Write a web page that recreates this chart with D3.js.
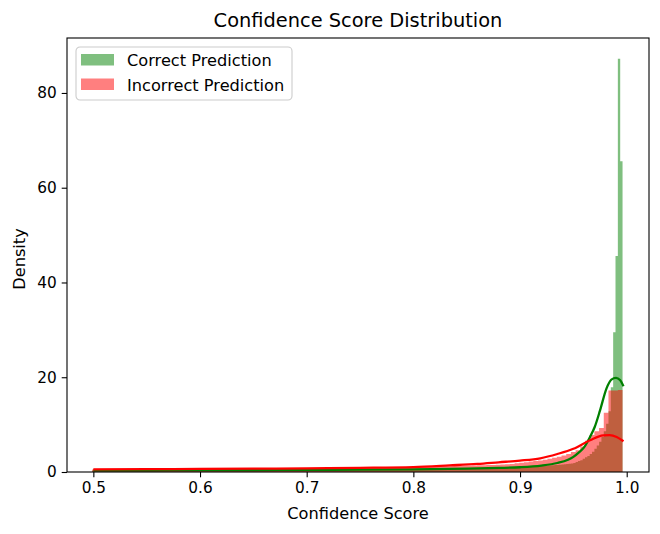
<!DOCTYPE html>
<html>
<head>
<meta charset="utf-8">
<script src="https://cdn.jsdelivr.net/npm/d3@7"></script>
<style>
    body { margin: 0; background: #fff; }
    svg { display: block; font-family: 'DejaVu Sans', sans-serif; }
</style>
</head>
<body>
<div id="chart"></div>
<script>
const seriesNames = ['Correct Prediction', 'Incorrect Prediction']
const xTicks = [0.5, 0.6, 0.7, 0.8, 0.9, 1.0]
const yTicks = [0, 20, 40, 60, 80]

// histogram densities, read bin by bin (equal width bins)
const correctBinStart = 0.4989
const correctBinWidth = 0.0022
const correctDensity = [
    0.34, 0.35, 0.34, 0.36, 0.35, 0.35, 0.36, 0.35, 0.37, 0.36,
    0.36, 0.37, 0.36, 0.37, 0.37, 0.36, 0.38, 0.37, 0.37, 0.38,
    0.38, 0.37, 0.38, 0.39, 0.38, 0.38, 0.39, 0.38, 0.39, 0.39,
    0.38, 0.39, 0.40, 0.39, 0.39, 0.40, 0.39, 0.40, 0.40, 0.41,
    0.40, 0.40, 0.41, 0.40, 0.41, 0.41, 0.40, 0.42, 0.41, 0.41,
    0.42, 0.41, 0.42, 0.42, 0.41, 0.43, 0.42, 0.42, 0.43, 0.43,
    0.42, 0.43, 0.44, 0.43, 0.43, 0.44, 0.43, 0.44, 0.44, 0.45,
    0.44, 0.44, 0.45, 0.45, 0.44, 0.46, 0.45, 0.45, 0.46, 0.46,
    0.45, 0.46, 0.47, 0.46, 0.47, 0.47, 0.46, 0.48, 0.47, 0.48,
    0.48, 0.47, 0.49, 0.48, 0.49, 0.49, 0.48, 0.50, 0.49, 0.50,
    0.50, 0.49, 0.51, 0.50, 0.51, 0.51, 0.50, 0.52, 0.52, 0.51,
    0.53, 0.52, 0.53, 0.53, 0.52, 0.54, 0.53, 0.54, 0.55, 0.54,
    0.55, 0.55, 0.54, 0.56, 0.56, 0.55, 0.57, 0.57, 0.56, 0.58,
    0.58, 0.57, 0.59, 0.59, 0.60, 0.59, 0.61, 0.61, 0.62, 0.61,
    0.63, 0.63, 0.64, 0.64, 0.65, 0.66, 0.65, 0.67, 0.67, 0.68,
    0.69, 0.69, 0.70, 0.71, 0.71, 0.72, 0.73, 0.73, 0.74, 0.75,
    0.76, 0.76, 0.78, 0.78, 0.79, 0.81, 0.81, 0.83, 0.84, 0.85,
    0.86, 0.88, 0.89, 0.90, 0.92, 0.93, 0.95, 0.96, 0.98, 1.00,
    1.01, 1.03, 1.05, 1.07, 1.09, 1.11, 1.13, 1.16, 1.18, 1.21,
    1.23, 1.26, 1.29, 1.32, 1.35, 1.38, 1.42, 1.46, 1.50, 1.55,
    1.60, 1.65, 1.70, 1.76, 1.82, 1.9, 2.1, 2.3, 2.5, 2.8,
    3.1, 3.4, 3.8, 4.3, 4.9, 5.6, 6.4, 7.4, 8.6, 10.2,
    12.8, 17.9, 29.5, 45.6, 87.2, 65.6
]

const incorrectBinStart = 0.4989
const incorrectBinWidth = 0.0044
const incorrectDensity = [
    0.52, 0.53, 0.52, 0.54, 0.55, 0.54, 0.56, 0.55, 0.57, 0.56,
    0.57, 0.58, 0.57, 0.59, 0.58, 0.60, 0.59, 0.61, 0.60, 0.62,
    0.61, 0.62, 0.63, 0.62, 0.64, 0.65, 0.64, 0.66, 0.66, 0.67,
    0.68, 0.67, 0.69, 0.70, 0.69, 0.71, 0.72, 0.72, 0.74, 0.73,
    0.75, 0.76, 0.76, 0.78, 0.78, 0.79, 0.80, 0.81, 0.81, 0.83,
    0.84, 0.84, 0.86, 0.87, 0.88, 0.89, 0.90, 0.92, 0.93, 0.94,
    0.96, 0.97, 0.98, 1.00, 1.01, 1.03, 1.04, 1.06, 1.08, 1.09,
    1.11, 1.13, 1.15, 1.17, 1.19, 1.21, 1.23, 1.26, 1.28, 1.31,
    1.34, 1.37, 1.40, 1.43, 1.47, 1.50, 1.54, 1.58, 1.63, 1.68,
    1.85, 1.95, 2.05, 2.2, 2.3, 2.45, 2.6, 2.8, 3.0, 3.2,
    3.5, 3.8, 4.2, 4.6, 5.4, 6.6, 7.8, 8.6, 9.3, 12.5,
    17.2, 17.2, 17.3
]

// kde curves
const correctKdeX = [0.5, 0.55, 0.6, 0.65, 0.7, 0.75, 0.8, 0.85, 0.88, 0.9, 0.92, 0.935, 0.945, 0.95, 0.955, 0.96, 0.9656, 0.97, 0.975, 0.981, 0.9856, 0.99, 0.9937, 0.997]
const correctKdeY = [0.36, 0.37, 0.40, 0.42, 0.45, 0.49, 0.55, 0.70, 0.85, 1.0, 1.35, 1.9, 2.6, 3.2, 4.1, 5.2, 7.4, 9.5, 13, 17.6, 19.5, 19.85, 19.4, 18.1]
const incorrectKdeX = [0.5, 0.55, 0.6, 0.65, 0.7, 0.75, 0.8, 0.834, 0.86, 0.88, 0.9, 0.919, 0.935, 0.95, 0.9656, 0.978, 0.984, 0.9906, 0.997]
const incorrectKdeY = [0.55, 0.6, 0.65, 0.7, 0.78, 0.88, 1.05, 1.4, 1.7, 2.05, 2.4, 2.9, 3.8, 4.9, 6.7, 7.75, 7.8, 7.4, 6.5]

const settings = {
    width: 660,
    height: 534,
    margin: { left: 67, top: 38, right: 11, bottom: 62 },
    xmin: 0.4753,
    xmax: 1.0209,
    ymin: 0,
    ymax: 91.6,
    tickFont: 15.3,
    labelFont: 16.2,
    titleFont: 19.4,
    colors: ['#008000', '#ff0000']
}

const plotW = settings.width - settings.margin.left - settings.margin.right
const plotH = settings.height - settings.margin.top - settings.margin.bottom

const svg = d3.select('#chart')
    .append('svg')
    .attr('width', settings.width)
    .attr('height', settings.height)

const g = svg.append('g')
    .attr('transform', `translate(${settings.margin.left}, ${settings.margin.top})`)

const xScale = d3.scaleLinear()
    .domain([settings.xmin, settings.xmax])
    .range([0, plotW])

const yScale = d3.scaleLinear()
    .domain([settings.ymin, settings.ymax])
    .range([plotH, 0])

const toBins = (start, width, dens) => {
    const pts = dens.map((d, i) => [start + i * width, d])
    pts.push([start + dens.length * width, dens[dens.length - 1]])
    return pts
}

const area = d3.area()
    .x(d => xScale(d[0]))
    .y0(yScale(0))
    .y1(d => yScale(d[1]))
    .curve(d3.curveStepAfter)

const hists = [
    toBins(correctBinStart, correctBinWidth, correctDensity),
    toBins(incorrectBinStart, incorrectBinWidth, incorrectDensity)
]

hists.forEach((h, i) => {
    g.append('path')
        .attr('d', area(h))
        .attr('fill', settings.colors[i])
        .attr('fill-opacity', 0.5)
})

const line = d3.line()
    .x(d => xScale(d[0]))
    .y(d => yScale(d[1]))
    .curve(d3.curveMonotoneX)

const kdes = [
    d3.zip(correctKdeX, correctKdeY),
    d3.zip(incorrectKdeX, incorrectKdeY)
]

kdes.forEach((k, i) => {
    g.append('path')
        .attr('d', line(k))
        .attr('fill', 'none')
        .attr('stroke', settings.colors[i])
        .attr('stroke-width', 2.3)
})

// axes
const xAxis = d3.axisBottom(xScale)
    .tickValues(xTicks)
    .tickFormat(d3.format('.1f'))
    .tickSize(5.3)
    .tickPadding(5)

const yAxis = d3.axisLeft(yScale)
    .tickValues(yTicks)
    .tickSize(5.3)
    .tickPadding(5)

g.append('g')
    .attr('transform', `translate(0, ${plotH})`)
    .call(xAxis)
    .call(a => a.select('.domain').remove())

g.append('g')
    .call(yAxis)
    .call(a => a.select('.domain').remove())

g.selectAll('.tick line').attr('stroke', '#000').attr('stroke-width', 1.1)
g.selectAll('.tick text')
    .attr('fill', '#000')
    .style('font-family', "'DejaVu Sans', sans-serif")
    .style('font-size', settings.tickFont + 'px')

g.append('rect')
    .attr('width', plotW)
    .attr('height', plotH)
    .attr('fill', 'none')
    .attr('stroke', '#000')
    .attr('stroke-width', 1.1)

// titles
svg.append('text')
    .attr('x', settings.margin.left + plotW / 2)
    .attr('y', 27)
    .attr('text-anchor', 'middle')
    .style('font-size', settings.titleFont + 'px')
    .text('Confidence Score Distribution')

svg.append('text')
    .attr('x', settings.margin.left + plotW / 2)
    .attr('y', 519)
    .attr('text-anchor', 'middle')
    .style('font-size', settings.labelFont + 'px')
    .text('Confidence Score')

svg.append('text')
    .attr('transform', `translate(25, ${settings.margin.top + plotH / 2 + 4}) rotate(-90)`)
    .attr('text-anchor', 'middle')
    .style('font-size', settings.labelFont + 'px')
    .text('Density')

// legend
const legend = svg.append('g')
    .attr('transform', 'translate(76, 47)')

legend.append('rect')
    .attr('width', 216)
    .attr('height', 53)
    .attr('rx', 4)
    .attr('fill', '#fff')
    .attr('fill-opacity', 0.8)
    .attr('stroke', '#cccccc')
    .attr('stroke-width', 1.1)

seriesNames.forEach((name, i) => {
    legend.append('rect')
        .attr('x', 5)
        .attr('y', 7 + i * 24.5)
        .attr('width', 33)
        .attr('height', 11.5)
        .attr('fill', settings.colors[i])
        .attr('fill-opacity', 0.5)
    legend.append('text')
        .attr('x', 51)
        .attr('y', 19 + i * 24.5)
        .style('font-size', settings.labelFont + 'px')
        .text(name)
})
</script>
</body>
</html>
